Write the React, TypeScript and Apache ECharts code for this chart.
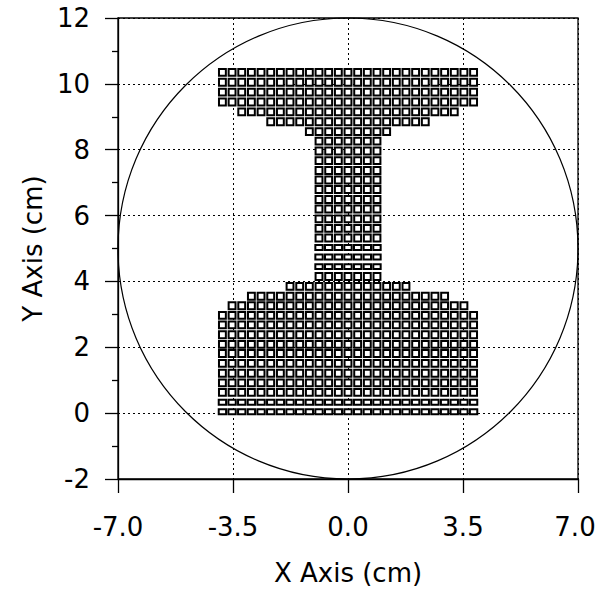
import React, { useEffect, useRef } from "react";
import * as echarts from "echarts";

// Fibre mesh of the girder section: one entry per row, top to bottom.
const columnPitch = 0.294; // cm between neighbouring fibre centres in a row
const rowCentres = [
  10.35, 10.05, 9.75, 9.45, 9.15, 8.85, 8.55,
  8.26, 7.96, 7.67, 7.37, 7.08, 6.79, 6.49, 6.2, 5.9, 5.61, 5.32, 5.03, 4.74, 4.45, 4.15,
  3.85, 3.55, 3.26,
  2.97, 2.68, 2.38, 2.09, 1.81, 1.51, 1.21, 0.92, 0.63, 0.33, 0.04,
];
// fibres on each side of the centre line
const rowHalfCounts = [
  13, 13, 13, 13, 11, 8, 4,
  3, 3, 3, 3, 3, 3, 3, 3, 3, 3, 3, 3, 3, 3, 3,
  6, 10, 12,
  13, 13, 13, 13, 13, 13, 13, 13, 13, 13, 13,
];
// drawn fibre size (cm)
const rowWidths = [
  0.27, 0.27, 0.27, 0.27, 0.27, 0.27, 0.27,
  0.27, 0.27, 0.27, 0.27, 0.27, 0.27, 0.27, 0.27, 0.27, 0.27, 0.27, 0.285, 0.285, 0.285, 0.27,
  0.27, 0.27, 0.27,
  0.27, 0.27, 0.27, 0.27, 0.27, 0.27, 0.27, 0.27, 0.27, 0.285, 0.285,
];
const rowHeights = [
  0.27, 0.27, 0.27, 0.27, 0.27, 0.27, 0.27,
  0.27, 0.27, 0.27, 0.27, 0.27, 0.27, 0.27, 0.27, 0.27, 0.27, 0.27, 0.21, 0.21, 0.21, 0.27,
  0.27, 0.27, 0.27,
  0.27, 0.27, 0.27, 0.27, 0.27, 0.27, 0.27, 0.27, 0.27, 0.21, 0.21,
];

// Bounding circle: centre x, centre y, radius (cm)
const boundingCircle = [[0, 5, 7]];

const xTicks = { min: -7, max: 7, interval: 3.5 };
const yTicks = { min: -2, max: 12, interval: 2 };

const FONT = "'DejaVu Sans', 'Liberation Sans', Arial, sans-serif";

function buildFibres() {
  const out: number[][] = [];
  rowCentres.forEach((y, i) => {
    const n = rowHalfCounts[i];
    for (let k = -n; k <= n; k++) {
      out.push([+(k * columnPitch).toFixed(3), y, rowWidths[i], rowHeights[i]]);
    }
  });
  return out;
}

export default function App() {
  const ref = useRef<HTMLDivElement>(null);

  useEffect(() => {
    if (!ref.current) return;
    const chart = echarts.init(ref.current, undefined, { renderer: "svg" });
    const axisCommon = {
      axisLine: { onZero: false, lineStyle: { color: "#000", width: 1.3 } },
      axisTick: { inside: false, length: 13, lineStyle: { color: "#000", width: 1.3 } },
      splitLine: { show: true, lineStyle: { color: "#000", width: 1, type: [2, 3] } },
      nameTextStyle: { color: "#000", fontFamily: FONT, fontSize: 26 },
    };
    chart.setOption({
      animation: false,
      backgroundColor: "#fff",
      grid: {
        left: 118,
        right: 19,
        top: 18,
        bottom: 115,
        outerBoundsMode: "none",
        containLabel: false,
        show: true,
        borderColor: "#000",
        borderWidth: 1.3,
        backgroundColor: "transparent",
      },
      xAxis: {
        type: "value",
        ...xTicks,
        ...axisCommon,
        name: "X Axis (cm)",
        nameLocation: "middle",
        nameGap: 81,
        axisTick: { ...axisCommon.axisTick, length: 14 },
        minorTick: { show: false },
        axisLabel: {
          color: "#000",
          fontFamily: FONT,
          fontSize: 26,
          margin: 35,
          // the right-most label sits against the page edge; pad it inwards
          formatter: (v: number) =>
            v === xTicks.max ? `{edge|${v.toFixed(1)}}` : v.toFixed(1),
          rich: {
            edge: {
              color: "#000",
              fontFamily: FONT,
              fontSize: 26,
              padding: [0, 6, 0, 0],
            },
          },
        },
      },
      yAxis: {
        type: "value",
        ...yTicks,
        ...axisCommon,
        name: "Y Axis (cm)",
        nameLocation: "middle",
        nameGap: 72,
        nameRotate: 90,
        minorTick: { show: true, splitNumber: 2, length: 6, lineStyle: { color: "#000", width: 1.3 } },
        axisLabel: {
          color: "#000",
          fontFamily: FONT,
          fontSize: 26,
          margin: 28,
        },
      },
      series: [
        {
          type: "custom",
          data: boundingCircle,
          silent: true,
          renderItem: (_p: any, api: any) => {
            const c = api.coord([api.value(0), api.value(1)]);
            const s = api.size([api.value(2), api.value(2)]);
            return {
              type: "ellipse",
              shape: { cx: c[0], cy: c[1], rx: s[0], ry: s[1] },
              style: { fill: "none", stroke: "#000", lineWidth: 1.2 },
            };
          },
        },
        {
          type: "custom",
          data: buildFibres(),
          silent: true,
          renderItem: (_p: any, api: any) => {
            const lw = 2;
            const c = api.coord([api.value(0), api.value(1)]);
            const s = api.size([api.value(2), api.value(3)]);
            return {
              type: "rect",
              shape: {
                x: c[0] - s[0] / 2 + lw / 2,
                y: c[1] - s[1] / 2 + lw / 2,
                width: s[0] - lw,
                height: s[1] - lw,
              },
              style: { fill: "#fff", stroke: "#000", lineWidth: lw },
            };
          },
        },
      ],
    });
    return () => chart.dispose();
  }, []);

  return (
    <div
      ref={ref}
      style={{ position: "fixed", left: 0, top: 0, width: 597, height: 594 }}
    />
  );
}
